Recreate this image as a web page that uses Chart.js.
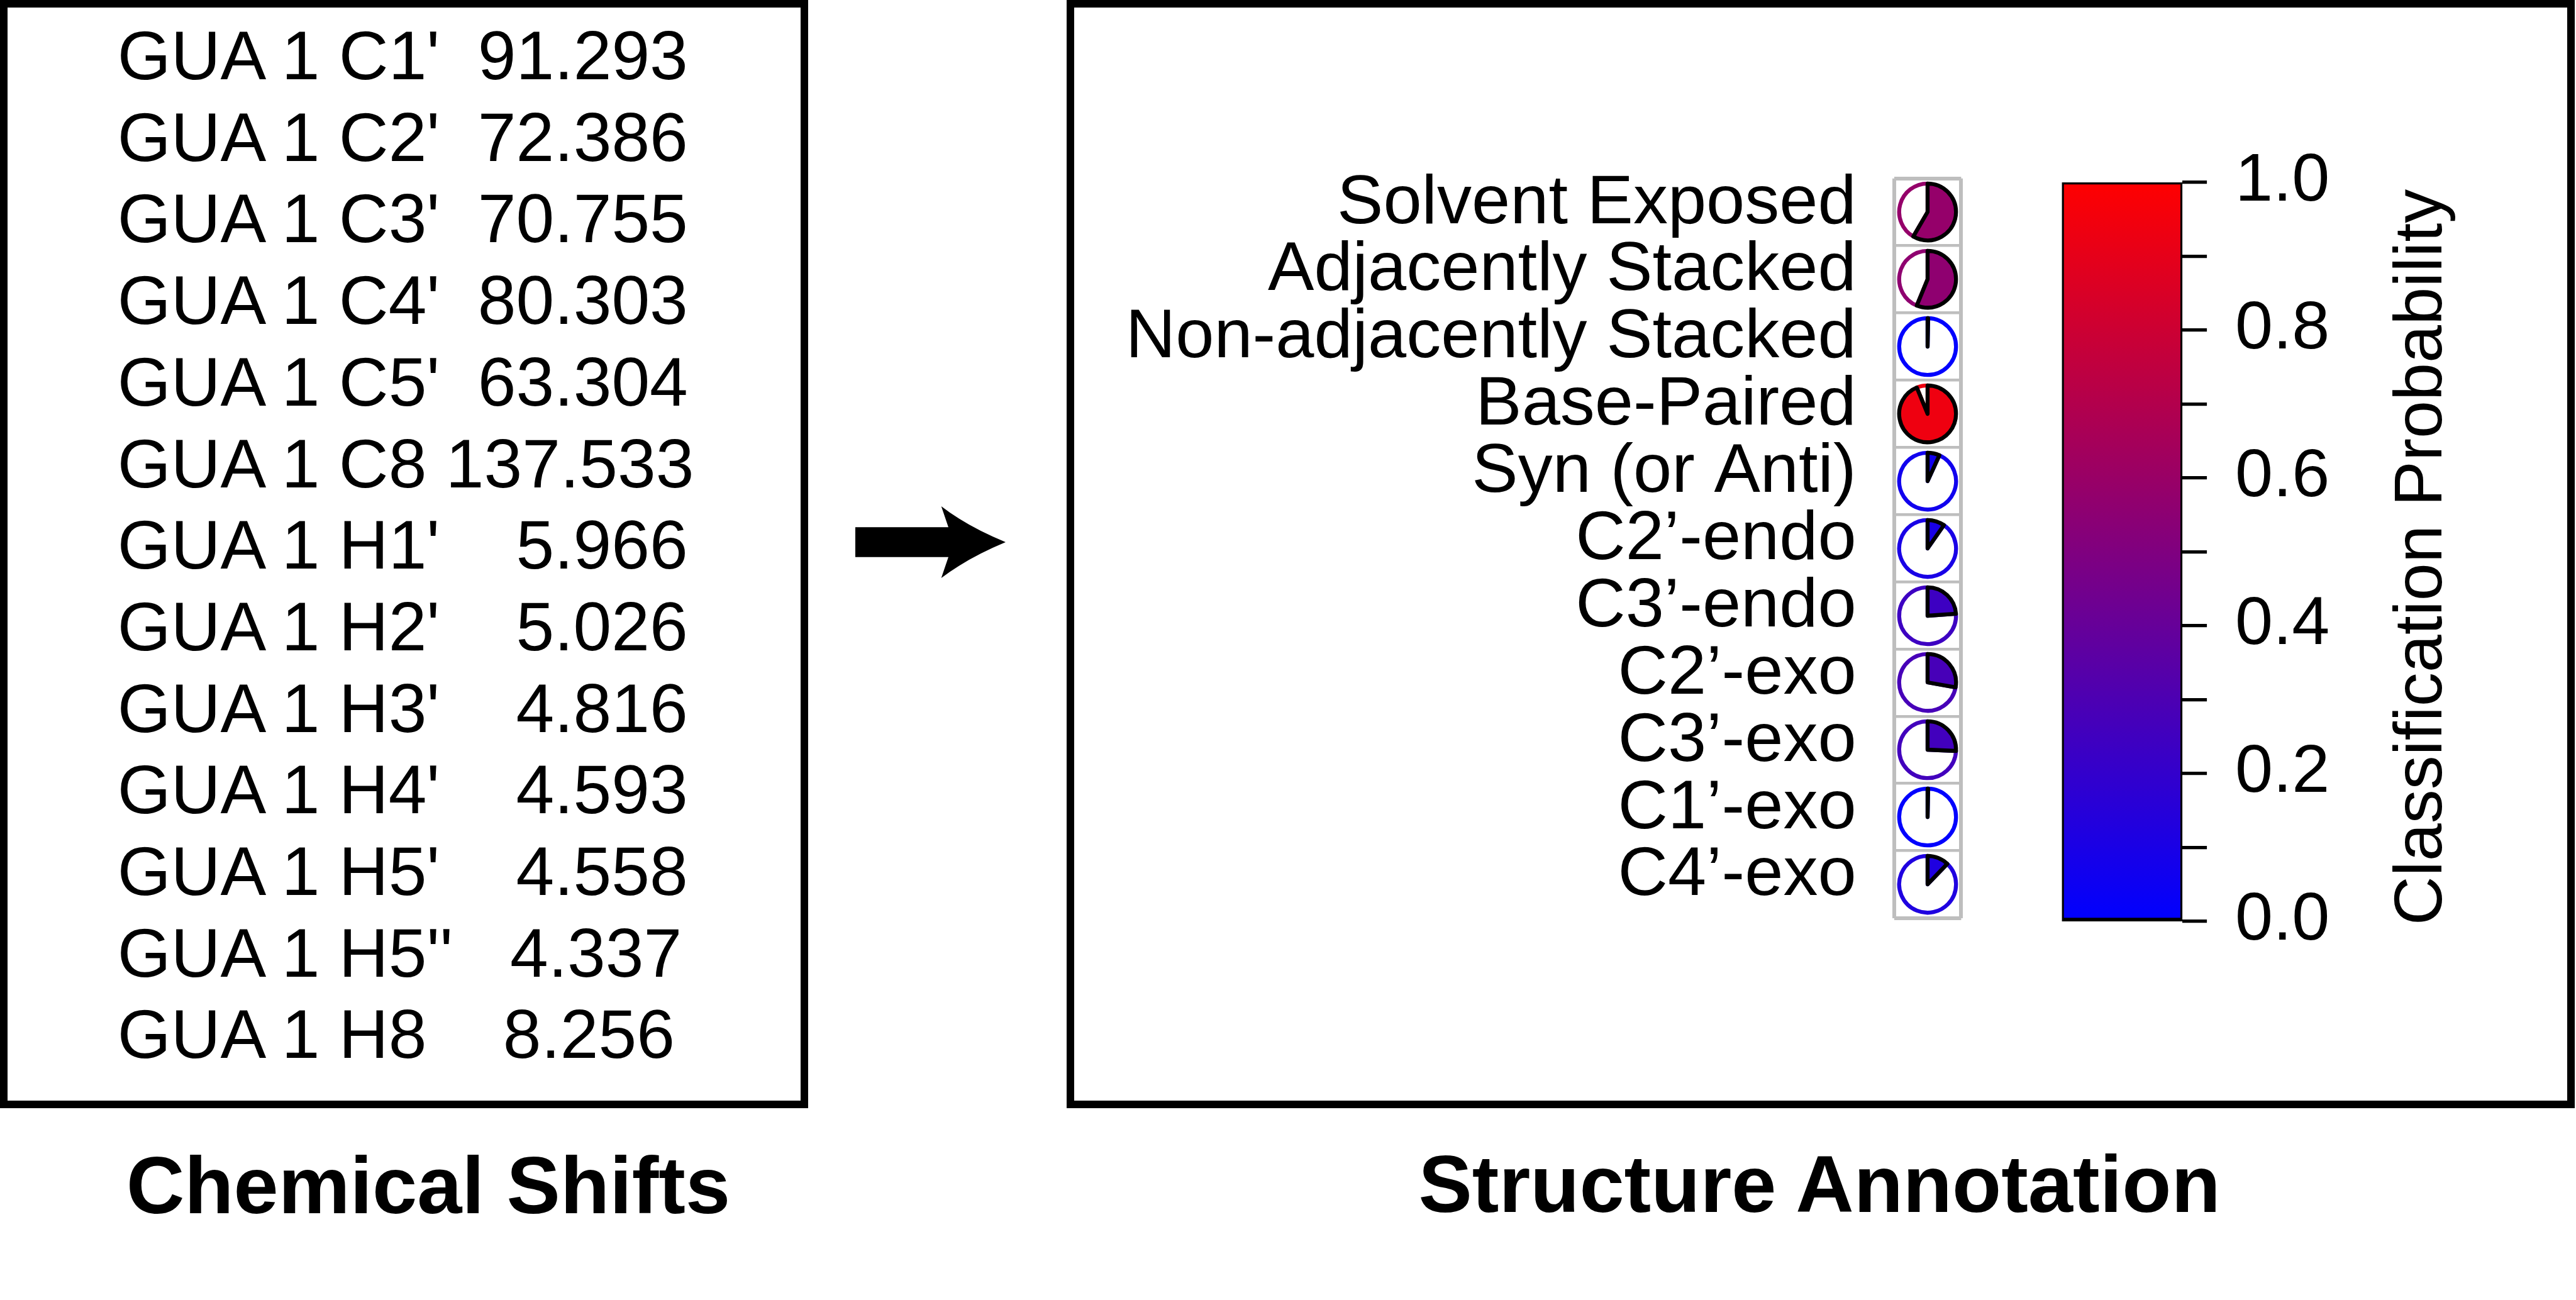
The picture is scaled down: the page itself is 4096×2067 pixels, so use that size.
<!DOCTYPE html>
<html>
<head>
<meta charset="utf-8">
<title>Chemical Shifts to Structure Annotation</title>
<script src="https://cdn.jsdelivr.net/npm/chart.js@4.4.1/dist/chart.umd.min.js"></script>
<style>
  html, body { margin:0; padding:0; background:#ffffff; }
  body { position:relative; width:4096px; height:2067px; overflow:hidden;
         font-family:"Liberation Sans", Arial, Helvetica, sans-serif; color:#000; }
  .panel { position:absolute; box-sizing:border-box; border:12.6px solid #000; }
  #shiftTable { position:absolute; left:186.8px; top:24px; font-size:109.2px; line-height:129.7px; white-space:pre; }
  .caption { position:absolute; width:2000px; font-weight:bold; font-size:128px; line-height:150px; text-align:center; white-space:nowrap; }
  #cbTitle { position:absolute; left:3144.6px; top:821px; width:1400px; height:130px; font-size:108px; line-height:130px; text-align:center; white-space:nowrap; transform:rotate(-90deg); }
  canvas { position:absolute; }
  #arrow { position:absolute; left:0; top:0; }
</style>
</head>
<body>
<div class="panel" style="left:0px;top:0px;width:1284.5px;height:1762px;"></div>
<div class="panel" style="left:1696px;top:0px;width:2398px;height:1762px;"></div>
<div id="shiftTable"></div>
<svg id="arrow" width="4096" height="2067">
  <path d="M1360 838.3 L1508 838.3 L1496.7 805 Q1538 837 1599 862 Q1538 887.4 1496.7 919 L1508 885.8 L1360 885.8 Z" fill="#000"/>
</svg>
<div class="caption" style="left:-319px;top:1809.7px;">Chemical Shifts</div>
<div class="caption" style="left:1893px;top:1807.7px;">Structure Annotation</div>
<div id="cbTitle">Classification Probability</div>
<canvas id="rowChart" width="1400" height="1460" style="left:1750px;top:133px;"></canvas>
<canvas id="colorbar" width="481" height="1475" style="left:3250px;top:140px;"></canvas>
<script>
// ---------------- data ----------------
const residueName = 'GUA';
const residueNumber = 1;
const shiftAtoms = ["C1'", "C2'", "C3'", "C4'", "C5'", "C8", "H1'", "H2'", "H3'", "H4'", "H5'", "H5''", "H8"];
const shiftValues = [91.293, 72.386, 70.755, 80.303, 63.304, 137.533, 5.966, 5.026, 4.816, 4.593, 4.558, 4.337, 8.256];
const shiftGaps = [2, 2, 2, 2, 2, 1, 4, 4, 4, 4, 4, 3, 4];

const structureLabels = ['Solvent Exposed', 'Adjacently Stacked', 'Non-adjacently Stacked', 'Base-Paired',
  'Syn (or Anti)', 'C2\u2019-endo', 'C3\u2019-endo', 'C2\u2019-exo', 'C3\u2019-exo', 'C1\u2019-exo', 'C4\u2019-exo'];
const structureProbs = [0.584, 0.562, 0.003, 0.938, 0.068, 0.097, 0.239, 0.278, 0.257, 0.003, 0.122];

const colorbarMin = 0;
const colorbarMax = 1;
const colorbarStep = 0.1;
const colorbarTickLabels = ['0.0', '0.2', '0.4', '0.6', '0.8', '1.0'];

// ---------------- helpers ----------------
function probColor(p) {
  const r = Math.round(255 * p), b = Math.round(255 * (1 - p));
  return 'rgb(' + r + ',0,' + b + ')';
}

Chart.defaults.font.family = '"Liberation Sans", Arial, Helvetica, sans-serif';
Chart.defaults.color = '#000';
Chart.defaults.animation = false;

// ---------------- chemical shift table ----------------
document.getElementById('shiftTable').textContent = shiftAtoms.map((a, i) =>
  residueName + ' ' + residueNumber + ' ' + a + ' '.repeat(shiftGaps[i]) + shiftValues[i].toFixed(3)
).join('\n');

// ---------------- structure rows (labels + cell frame) ----------------
const ROW_LEFT = 1750, ROW_TOP = 133;
const rowChart = new Chart(document.getElementById('rowChart'), {
  type: 'scatter',
  data: { datasets: [] },
  options: {
    responsive: false, animation: false, events: [],
    layout: { padding: { left: 0, top: 150.8, right: 31.6, bottom: 133.5 } },
    plugins: { legend: { display: false }, tooltip: { enabled: false } },
    scales: {
      x: { type: 'linear', min: 0, max: 1,
           ticks: { display: false, stepSize: 1 },
           grid: { color: '#bebebe', lineWidth: 6, drawTicks: false },
           border: { display: false } },
      y: { type: 'category', labels: structureLabels, offset: true,
           ticks: { font: { size: 110 }, color: '#000', padding: 60, labelOffset: -13, autoSkip: false },
           grid: { offset: true, color: '#bebebe', drawTicks: false,
                   lineWidth: c => (c.index === 0 || c.index === undefined || c.index >= structureLabels.length) ? 6 : 4.6 },
           border: { display: false },
           afterFit: s => { s.width = 1261.6; } }
    }
  }
});

// ---------------- pie glyphs, placed by the row chart's scales ----------------
const ca = rowChart.chartArea;
const yScale = rowChart.scales.y;
const pieCx = ROW_LEFT + (ca.left + ca.right) / 2;
structureProbs.forEach((p, i) => {
  const c = document.createElement('canvas');
  c.width = 100; c.height = 100;
  const cy = ROW_TOP + yScale.getPixelForValue(i);
  c.style.left = (pieCx - 50) + 'px';
  c.style.top = (cy - 50) + 'px';
  document.body.appendChild(c);
  const col = probColor(p);
  new Chart(c, {
    type: 'pie',
    data: {
      labels: ['rest', structureLabels[i]],
      datasets: [{
        data: [1 - p, p],
        backgroundColor: ['#ffffff', col],
        borderColor: [col, '#000000'],
        borderWidth: 6.3,
        borderJoinStyle: 'round'
      }]
    },
    options: {
      responsive: false, animation: false, events: [],
      rotation: p * 360, radius: 45.2,
      layout: { padding: 0 },
      plugins: { legend: { display: false }, tooltip: { enabled: false } }
    }
  });
});

// ---------------- colour bar ----------------
new Chart(document.getElementById('colorbar'), {
  type: 'bar',
  data: {
    labels: ['Classification Probability'],
    datasets: [{
      data: [colorbarMax],
      backgroundColor: ctx => {
        const ch = ctx.chart, a = ch.chartArea;
        if (!a) return probColor(0.5);
        const g = ch.ctx.createLinearGradient(0, a.bottom, 0, a.top);
        g.addColorStop(0, probColor(colorbarMin));
        g.addColorStop(1, probColor(colorbarMax));
        return g;
      },
      borderColor: '#000', borderWidth: 6.3, borderSkipped: false, inflateAmount: 3.15,
      barPercentage: 1, categoryPercentage: 1
    }]
  },
  options: {
    responsive: false, animation: false, events: [],
    layout: { padding: { left: 28.6, top: 150, right: 0, bottom: 150 } },
    plugins: { legend: { display: false }, tooltip: { enabled: false } },
    scales: {
      x: { display: false },
      y: { position: 'right', min: colorbarMin, max: colorbarMax,
           ticks: { stepSize: colorbarStep, autoSkip: false, font: { size: 108 }, color: '#000',
                    padding: 45, labelOffset: -1,
                    callback: v => { const k = Math.round(v * 10); return (k % 2 === 0) ? colorbarTickLabels[k / 2] : ''; } },
           grid: { drawOnChartArea: false, drawTicks: true, tickLength: 39, tickWidth: 5.3, tickColor: '#000', color: '#000', lineWidth: 5.3 },
           border: { display: false },
           afterFit: s => { s.width = 260.9; } }
    }
  }
});
</script>
</body>
</html>
